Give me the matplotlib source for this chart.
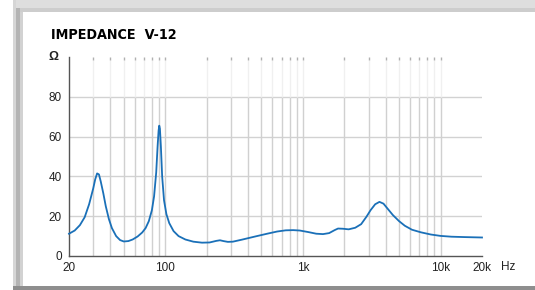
import matplotlib
matplotlib.use('Agg')
import matplotlib.pyplot as plt
from matplotlib.patches import Rectangle
import numpy as np

plt.rcParams['font.family'] = ['Liberation Sans', 'DejaVu Sans']

# impedance curve (Hz, ohm)
freq = [20, 22, 24, 26, 28, 30, 31, 32, 33, 34, 35.5, 37, 39, 41, 44, 47, 50, 54, 58, 63,
        68, 72, 76, 80, 83, 86, 88, 89.5, 90.5, 91.5, 93, 95, 98, 102, 107, 115, 125, 140,
        160, 185, 210, 235, 250, 265, 285, 310, 360, 450, 550, 650, 750, 850, 950, 1100,
        1250, 1400, 1550, 1700, 1800, 1950, 2150, 2400, 2650, 2900, 3100, 3350, 3600,
        3850, 4100, 4500, 5000, 5500, 6200, 7200, 8500, 10000, 12000, 15000, 20000]
imped = [11.2, 12.8, 15.5, 19.5, 26, 34, 38.5, 41.5, 41, 37.5, 31.5, 25, 18.5, 14, 10, 8, 7.3, 7.5, 8.3, 9.8,
         11.8, 14, 17.5, 23, 30, 42, 55, 63, 65.5, 64, 55, 40, 28, 21, 16.5, 12.5, 10, 8.3,
         7.2, 6.7, 6.8, 7.6, 7.9, 7.5, 7.1, 7.2, 8.2, 9.8, 11.2, 12.3, 12.9, 13, 12.8, 12,
         11.2, 11, 11.5, 13, 13.8, 13.7, 13.4, 14.2, 16, 19.8, 23, 26, 27.2,
         26.3, 24, 20.6, 17.5, 15.2, 13.2, 11.9, 10.8, 10.1, 9.7, 9.5, 9.3]

minor_freqs = [30, 40, 50, 60, 70, 80, 90, 100, 200, 300, 400, 500, 600, 700, 800, 900,
               1000, 2000, 3000, 4000, 5000, 6000, 7000, 8000, 9000, 10000]
x_ticks = [20, 100, 1000, 10000, 20000]
x_labels = ['20', '100', '1k', '10k', '20k']
y_ticks = [0, 20, 40, 60, 80]

W, H = 535, 290
fig = plt.figure(figsize=(W / 100, H / 100), dpi=100)
fig.patch.set_facecolor('white')

# panel frame
def px_rect(x0, y0, x1, y1, color):
    fig.patches.append(Rectangle((x0 / W, 1 - y1 / H), (x1 - x0) / W, (y1 - y0) / H,
                                 transform=fig.transFigure, facecolor=color,
                                 edgecolor='none', zorder=0))

px_rect(13, 0, W, 8, '#dedede')
px_rect(13, 8, W, 12, '#cdcdcd')
px_rect(13, 0, 16, 290, '#d6d6d6')
px_rect(16, 8, 20, 290, '#b4b4b4')
px_rect(20, 12, 23, 290, '#d2d2d2')
px_rect(13, 286, W, 290, '#8e8e8e')

ax = fig.add_axes([69 / W, 1 - 256 / H, (482 - 69) / W, (256 - 57) / H])
ax.set_xscale('log')
ax.set_xlim(20, 20000)
ax.set_ylim(0, 100)

# grid
for y in y_ticks[1:]:
    ax.axhline(y, color='#d2d2d2', lw=1, zorder=1)
ax.vlines(minor_freqs, 0, 80, color='#d0d0d0', lw=1, zorder=1)
ax.vlines(minor_freqs, 80, 98.5, color='#f0f0f0', lw=1, zorder=1)
ax.vlines(minor_freqs, 98.5, 100, color='#b0b0b0', lw=1, zorder=1)

ax.plot(freq, imped, color='#1a70b8', lw=1.3, zorder=3, clip_on=False)

for s in ['top', 'right']:
    ax.spines[s].set_visible(False)
for s in ['left', 'bottom']:
    ax.spines[s].set_color('#555555')
    ax.spines[s].set_linewidth(1)

ax.set_xticks(x_ticks)
ax.set_xticklabels(x_labels)
ax.xaxis.set_minor_locator(matplotlib.ticker.NullLocator())
ax.set_yticks(y_ticks)
ax.tick_params(length=0, labelsize=8.5, colors='#222222', pad=5)
ax.tick_params(axis='x', pad=4)

ax.text(-0.025, 1.0, 'Ω', transform=ax.transAxes, ha='right', va='center',
        fontsize=9, fontweight='bold', color='#222222')
ax.text(1.045, -0.055, 'Hz', transform=ax.transAxes, ha='left', va='center',
        fontsize=8.5, color='#222222')

fig.text(51 / W, 1 - 35 / H, 'IMPEDANCE  V-12', ha='left', va='center',
         fontsize=10.3, fontweight='heavy', fontstretch='condensed', color='black',
         family=['DejaVu Sans'])

fig.savefig('out.png', dpi=100)
